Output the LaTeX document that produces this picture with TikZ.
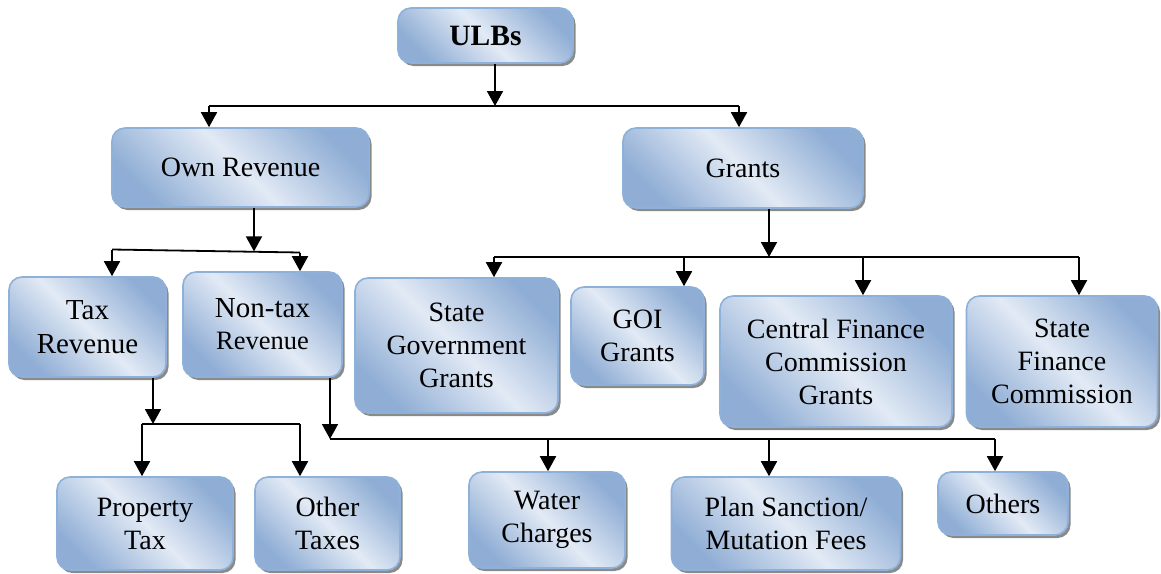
\documentclass[tikz,border=0pt]{standalone}
\usepackage{fontspec}
\setmainfont{Liberation Serif}
\usetikzlibrary{arrows.meta,calc,shadows}
\definecolor{bxdark}{HTML}{90AED5}
\definecolor{bxlight}{HTML}{E2EAF5}
\definecolor{bxedge}{HTML}{8EB1DA}
\definecolor{bxshadow}{HTML}{8A8A8A}
\tikzset{
  box/.style={rectangle, rounded corners=13pt, draw=bxedge, line width=1.6pt,
    top color=bxdark, bottom color=bxdark, middle color=bxlight, shading angle=-45,
    align=center, inner sep=0pt, text=black,
    font=\fontsize{28}{33}\selectfont,
    drop shadow={shadow xshift=2.5pt, shadow yshift=-3pt, fill=bxshadow, opacity=1}},
  ln/.style={line width=1.8pt, draw=black},
  arr/.style={ln, -{Triangle[width=16pt,length=15pt]}},
}
\begin{document}
\begin{tikzpicture}[x=1pt, y=-1pt]
\useasboundingbox (0,0) rectangle (1161,573);

% boxes
\node[box, font=\bfseries\fontsize{29.5}{34}\selectfont, minimum width=175pt, minimum height=55pt] (ulbs) at (485.5,35.5) {ULBs};
\node[box, minimum width=257pt, minimum height=79pt] (own) at (240.5,167.5) {Own Revenue};
\node[box, minimum width=240pt, minimum height=80pt] (grants) at (743,168) {Grants};

\node[box, font=\fontsize{29}{34}\selectfont, minimum width=157pt, minimum height=100pt] (tax) at (87.5,327) {Tax\\Revenue};
\node[box, font=\fontsize{29}{32}\selectfont, minimum width=159pt, minimum height=105pt] (nontax) at (262.5,324.5) {Non-tax\\{\fontsize{26.5}{32}\selectfont Revenue}};

\node[box, minimum width=203pt, minimum height=135pt] (stategov) at (456.5,345.5) {State\\Government\\Grants};
\node[box, minimum width=133pt, minimum height=98pt] (goi) at (637.5,336) {GOI\\Grants};
\node[box, minimum width=232pt, minimum height=131pt] (cfc) at (836,361.5) {Central Finance\\Commission\\Grants};
\node[box, minimum width=191pt, minimum height=131pt] (sfc) at (1062,361.5) {State\\Finance\\Commission};

\node[box, minimum width=176pt, minimum height=93pt] (prop) at (145,523.5) {Property\\Tax};
\node[box, minimum width=145pt, minimum height=93pt] (other) at (327.5,523.5) {Other\\Taxes};

\node[box, minimum width=156pt, minimum height=96pt] (water) at (547,520) {Water\\Charges};
\node[box, minimum width=229pt, minimum height=93pt] (plan) at (786,523.5) {Plan Sanction/\\Mutation Fees};
\node[box, minimum width=130pt, minimum height=63pt] (others) at (1003,503.5) {Others};

% ULBs -> Own Revenue, Grants
\coordinate (j1) at (495,106);
\coordinate (j1L) at (209,106);
\coordinate (j1R) at (739,106);
\draw[arr] ([xshift=9.5pt]ulbs.south) -- (j1);
\draw[ln] (j1L) -- (j1R);
\draw[arr] (j1L) -- (j1L |- own.north);
\draw[arr] (j1R) -- (j1R |- grants.north);

% Own Revenue -> Tax, Non-tax
\coordinate (j2) at (254,251.4);
\coordinate (j2L) at (112,249.5);
\coordinate (j2R) at (300,252.5);
\draw[arr] ([xshift=13.5pt]own.south) -- (j2);
\draw[ln] (j2L) -- (j2R);
\draw[arr] (j2L) -- (j2L |- tax.north);
\draw[arr] (j2R) -- (j2R |- nontax.north);

% Grants -> four grants
\coordinate (j3) at (769,257);
\coordinate (j3L) at (494,257);
\coordinate (j3R) at (1079,257);
\coordinate (j3a) at (684,257);
\coordinate (j3b) at (863,257);
\draw[arr] ([xshift=26pt]grants.south) -- (j3);
\draw[ln] (j3L) -- (j3R);
\draw[arr] (j3L) -- (j3L |- stategov.north);
\draw[arr] (j3a) -- (j3a |- goi.north);
\draw[arr] (j3b) -- (j3b |- cfc.north);
\draw[arr] (j3R) -- (j3R |- sfc.north);

% Tax -> Property, Other
\coordinate (j4) at (153,424);
\coordinate (j4L) at (142,424);
\coordinate (j4R) at (300,424);
\draw[arr] ([xshift=65.5pt]tax.south) -- (j4);
\draw[ln] (j4L) -- (j4R);
\draw[arr] (j4L) -- (j4L |- prop.north);
\draw[arr] (j4R) -- (j4R |- other.north);

% Non-tax -> Water, Plan, Others
\coordinate (j5) at (330,439);
\coordinate (j5R) at (995,439);
\coordinate (j5a) at (548,439);
\coordinate (j5b) at (769,439);
\draw[arr] ([xshift=67.5pt]nontax.south) -- (j5);
\draw[ln] (j5) -- (j5R);
\draw[arr] (j5a) -- (j5a |- water.north);
\draw[arr] (j5b) -- (j5b |- plan.north);
\draw[arr] (j5R) -- (j5R |- others.north);
\end{tikzpicture}
\end{document}
